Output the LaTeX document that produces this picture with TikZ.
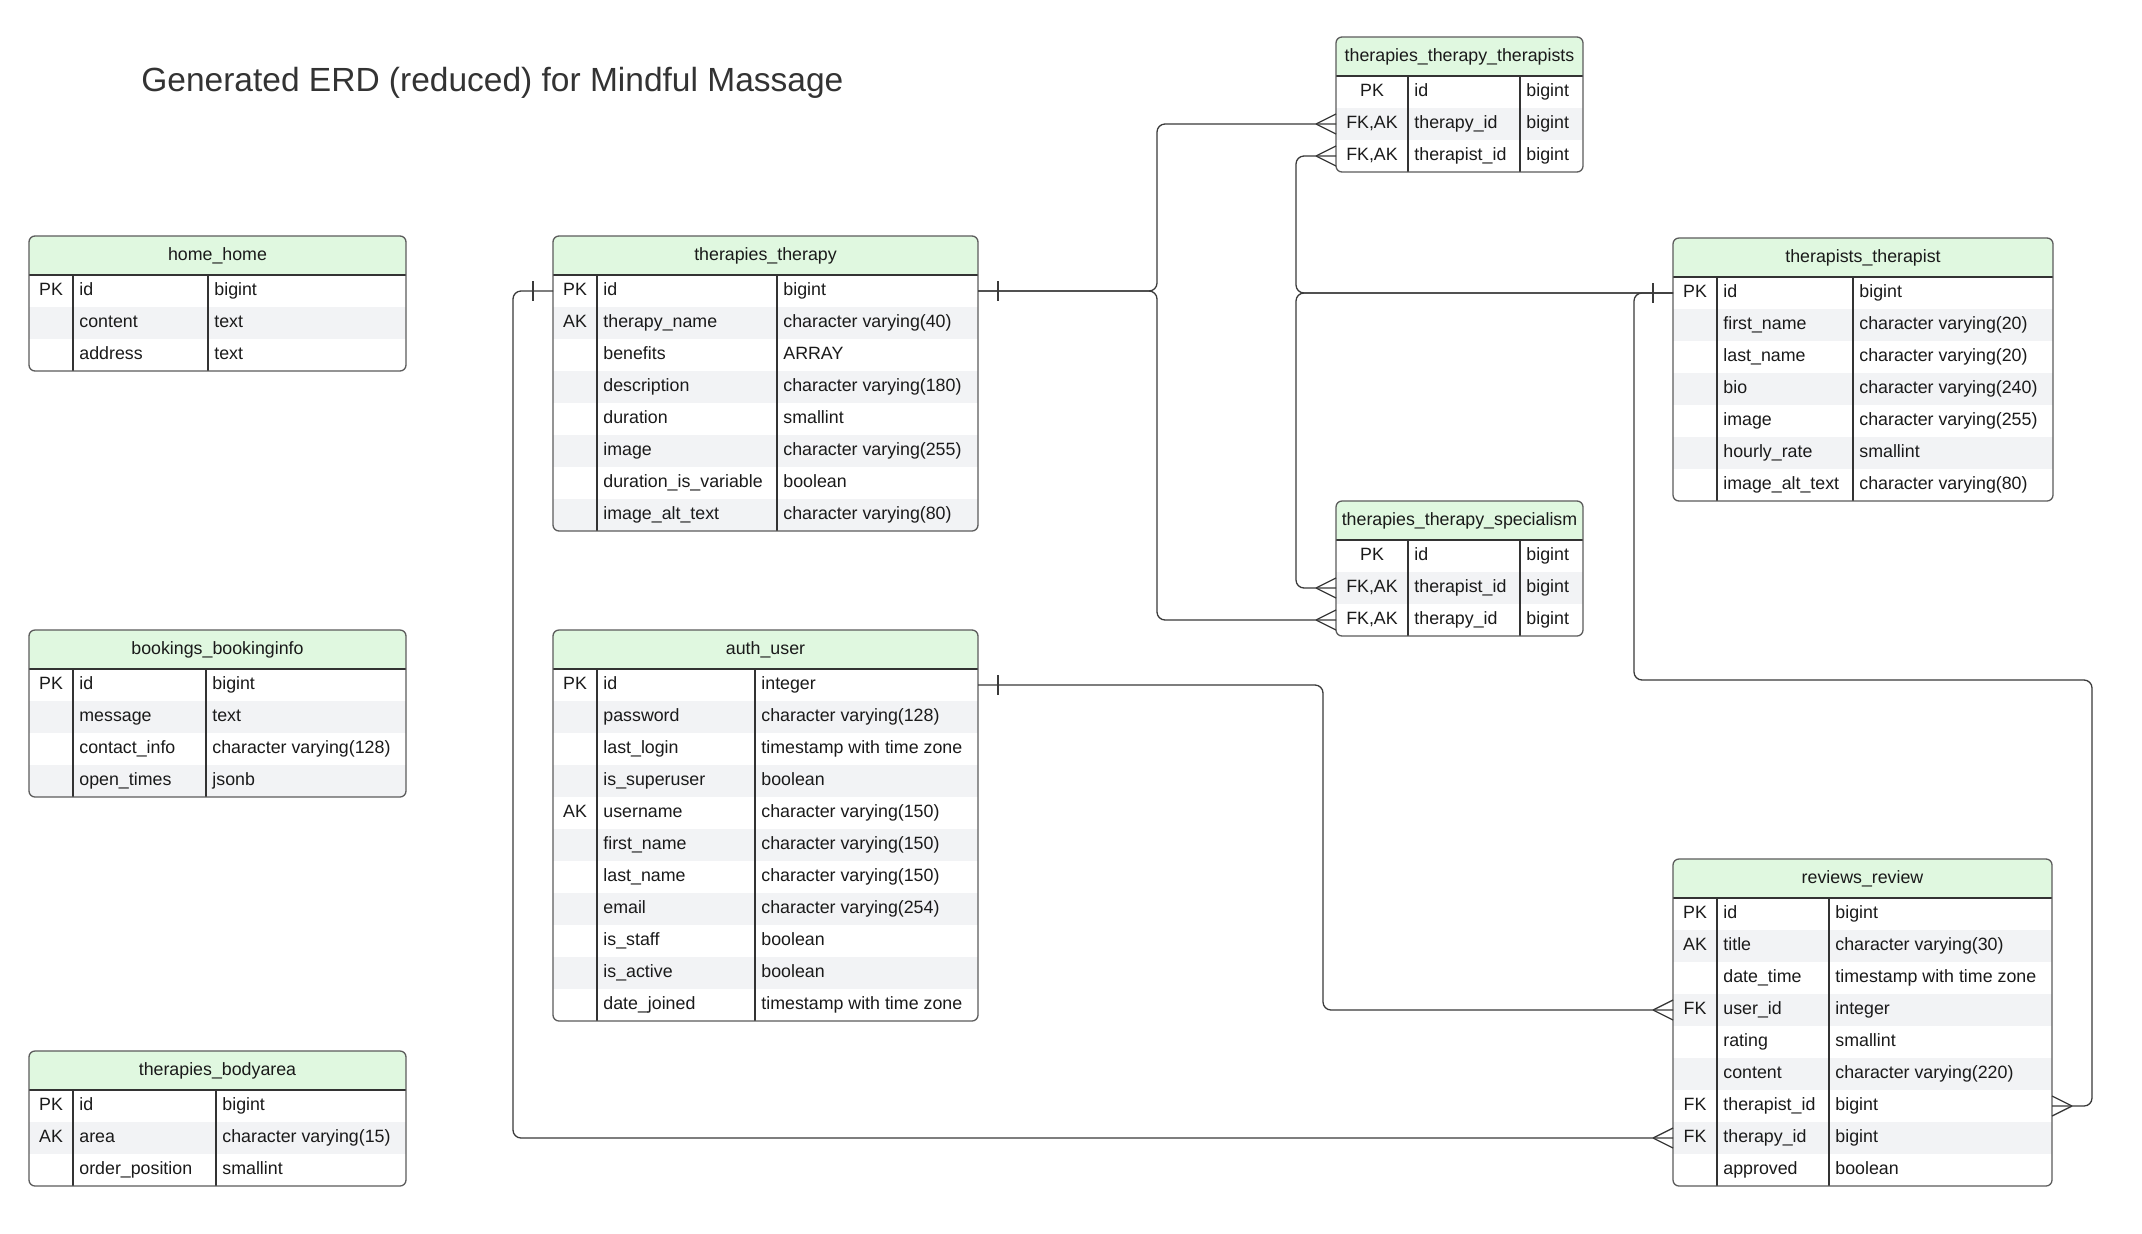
\documentclass[tikz,border=0pt]{standalone}
\usepackage{fontspec}
\setmainfont{Liberation Sans}
\usepackage{xcolor}
\usepackage{tikz}
\usetikzlibrary{calc,positioning}

\definecolor{headgreen}{HTML}{E0F8E0}
\definecolor{rowgray}{HTML}{F2F3F5}
\definecolor{edgegray}{HTML}{5C5C5C}
\definecolor{linkgray}{HTML}{3A3A3A}
\definecolor{inkgray}{HTML}{1A1A1A}
\definecolor{titlegray}{HTML}{333333}

% #1 name, #2 top left, #3 width, #4 key col, #5 type col, #6 rows, #7 title, #8 fields
\newcommand{\erdtable}[8]{%
\begin{scope}
\clip[rounded corners=3pt] (#2) rectangle ++(#3,39+32*#6);
\node[erdhead, minimum width=#3*0.5pt, anchor=north west] (#1-h) at (#2) {#7};
\foreach \fkey/\fname/\ftype [count=\i, remember=\i as \j (initially h)] in {#8} {
  \ifodd\i\relax\def\rowfill{white}\else\def\rowfill{rowgray}\fi
  \node[erdrow, minimum width=#3*0.5pt, fill=\rowfill, anchor=north west] (#1-\i) at (#1-\j.south west) {};
  \node[erdtext] (#1-\i-k) at ($(#1-\i.west)+(#4/2,0)$) {\fkey};
  \node[erdtext, anchor=west] (#1-\i-n) at ($(#1-\i.west)+(#4+6,0)$) {\fname};
  \node[erdtext, anchor=west] (#1-\i-t) at ($(#1-\i.west)+(#5+6,0)$) {\ftype};
}
\end{scope}
\draw[erdsep] (#1-h.south west) -- (#1-h.south east);
\draw[erdsep] ($(#1-1.north west)+(#4,0)$) -- ($(#1-#6.south west)+(#4,0)$);
\draw[erdsep] ($(#1-1.north west)+(#5,0)$) -- ($(#1-#6.south west)+(#5,0)$);
\draw[erdedge] (#1-h.north west) rectangle (#1-#6.south east);
}
\newcommand{\crowfoot}[2]{\draw[erdlink] ($(#1)+(#2*20,0)$) -- ($(#1)+(0,-10)$) ($(#1)+(#2*20,0)$) -- ($(#1)+(0,10)$);}
\newcommand{\onebar}[2]{\draw[erdlink] ($(#1)+(#2*20,-10)$) -- ($(#1)+(#2*20,10)$);}

\begin{document}
\begin{tikzpicture}
[x=0.5pt, y=-0.5pt, font=\fontsize{8.9}{10.5}\selectfont, text=inkgray,
erdhead/.style={rectangle, fill=headgreen, minimum height=19.5pt, inner sep=0pt, outer sep=0pt, text height=6.4pt, text depth=1.9pt},
erdrow/.style={rectangle, minimum height=16pt, inner sep=0pt, outer sep=0pt},
erdtext/.style={inner sep=0pt, text height=6.4pt, text depth=1.9pt},
erdsep/.style={draw=titlegray, line width=0.6pt},
erdedge/.style={draw=edgegray, line width=0.65pt, rounded corners=3pt},
erdlink/.style={draw=linkgray, line width=0.65pt, rounded corners=4pt}]
\path[fill=white, use as bounding box] (0,0) rectangle (2142,1233);

\node[anchor=west, inner sep=0pt, text=titlegray, font=\fontsize{16.75}{20}\selectfont] (title) at (141,83) {Generated ERD (reduced) for Mindful Massage};

\erdtable{home}{29,236}{377}{44}{179}{3}{home\_home}{PK/id/bigint, /content/text, /address/text}
\erdtable{booking}{29,630}{377}{44}{177}{4}{bookings\_bookinginfo}{PK/id/bigint, /message/text, /contact\_info/character varying(128), /open\_times/jsonb}
\erdtable{bodyarea}{29,1051}{377}{44}{187}{3}{therapies\_bodyarea}{PK/id/bigint, AK/area/character varying(15), /order\_position/smallint}
\erdtable{therapy}{553,236}{425}{44}{224}{8}{therapies\_therapy}{PK/id/bigint, AK/therapy\_name/character varying(40), /benefits/ARRAY, /description/character varying(180), /duration/smallint, /image/character varying(255), /duration\_is\_variable/boolean, /image\_alt\_text/character varying(80)}
\erdtable{auth}{553,630}{425}{44}{202}{11}{auth\_user}{PK/id/integer, /password/character varying(128), /last\_login/timestamp with time zone, /is\_superuser/boolean, AK/username/character varying(150), /first\_name/character varying(150), /last\_name/character varying(150), /email/character varying(254), /is\_staff/boolean, /is\_active/boolean, /date\_joined/timestamp with time zone}
\erdtable{ttt}{1336,37}{247}{72}{184}{3}{therapies\_therapy\_therapists}{PK/id/bigint, {FK,AK}/therapy\_id/bigint, {FK,AK}/therapist\_id/bigint}
\erdtable{tts}{1336,501}{247}{72}{184}{3}{therapies\_therapy\_specialism}{PK/id/bigint, {FK,AK}/therapist\_id/bigint, {FK,AK}/therapy\_id/bigint}
\erdtable{therapist}{1673,238}{380}{44}{180}{7}{therapists\_therapist}{PK/id/bigint, /first\_name/character varying(20), /last\_name/character varying(20), /bio/character varying(240), /image/character varying(255), /hourly\_rate/smallint, /image\_alt\_text/character varying(80)}
\erdtable{review}{1673,859}{379}{44}{156}{9}{reviews\_review}{PK/id/bigint, AK/title/character varying(30), /date\_time/timestamp with time zone, FK/user\_id/integer, /rating/smallint, /content/character varying(220), FK/therapist\_id/bigint, FK/therapy\_id/bigint, /approved/boolean}

\coordinate (jtherapy) at (1157,0);
\coordinate (jtherapist) at (1296,0);
\coordinate (juser) at (1323,0);
\coordinate (jleft) at (513,0);
\coordinate (bendR) at (1634,680);
\coordinate (bendS) at (2092,680);

\draw[erdlink] (therapy-1.east) -| (jtherapy |- ttt-2.west) -- (ttt-2.west);
\draw[erdlink] (therapy-1.east) -| (jtherapy |- tts-3.west) -- (tts-3.west);
\draw[erdlink] (therapist-1.west) -| (jtherapist |- ttt-3.west) -- (ttt-3.west);
\draw[erdlink] (therapist-1.west) -| (jtherapist |- tts-2.west) -- (tts-2.west);
\draw[erdlink] (therapist-1.west) -| (bendR) -- (bendS) |- (review-7.east);
\draw[erdlink] (auth-1.east) -| (juser |- review-4.west) -- (review-4.west);
\draw[erdlink] (therapy-1.west) -| (jleft |- review-8.west) -- (review-8.west);

\onebar{therapy-1.east}{1}
\onebar{therapy-1.west}{-1}
\onebar{therapist-1.west}{-1}
\onebar{auth-1.east}{1}
\crowfoot{ttt-2.west}{-1}
\crowfoot{ttt-3.west}{-1}
\crowfoot{tts-2.west}{-1}
\crowfoot{tts-3.west}{-1}
\crowfoot{review-4.west}{-1}
\crowfoot{review-8.west}{-1}
\crowfoot{review-7.east}{1}
\end{tikzpicture}
\end{document}
